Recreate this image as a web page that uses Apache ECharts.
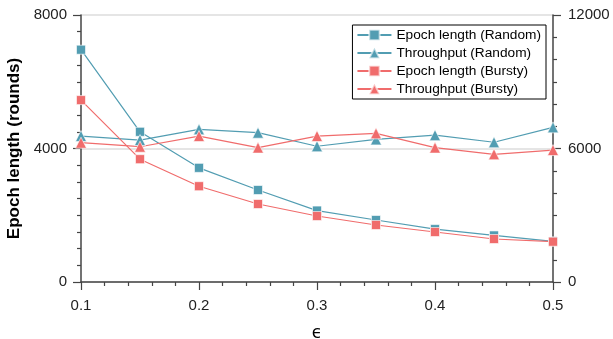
<!DOCTYPE html>
<html><head><meta charset="utf-8">
<script src="https://cdn.jsdelivr.net/npm/echarts@6/dist/echarts.min.js"></script>
<style>html,body{margin:0;padding:0;background:#fff}#c{width:613px;height:339px}</style>
</head><body><div id="c"></div>
<script>
const eps = [0.1, 0.15, 0.2, 0.25, 0.3, 0.35, 0.4, 0.45, 0.5];
const epochRandom = [6960, 4500, 3420, 2756, 2140, 1857, 1585, 1395, 1215];
const thrRandom = [6560, 6380, 6860, 6710, 6100, 6410, 6600, 6280, 6950];
const epochBursty = [5450, 3680, 2870, 2337, 1977, 1708, 1498, 1288, 1207];
const thrBursty = [6260, 6080, 6560, 6040, 6560, 6680, 6040, 5740, 5930];
const names = ['Epoch length (Random)', 'Throughput (Random)', 'Epoch length (Bursty)', 'Throughput (Bursty)'];
const teal = '#529db2', red = '#f06c6c';
const font = 'Liberation Sans, Arial, Helvetica, sans-serif';
function pairs(v){ return eps.map((x,i)=>[x, v[i]]); }
function mk(name, data, color, sym, yIdx, size){
  return { name, type:'line', data: pairs(data), yAxisIndex: yIdx, symbol: sym, symbolSize: size,
    showSymbol:true, lineStyle:{color, width:1.2}, itemStyle:{color, borderColor:'rgba(255,255,255,0.6)', borderWidth:1},
    emphasis:{disabled:true}, animation:false, z: 3 };
}
const chart = echarts.init(document.getElementById('c'), null, {renderer:'canvas'});
const axisLine = {show:true, lineStyle:{color:'#444', width:1.5}};
const plain = v => String(v);
chart.setOption({
  animation:false,
  grid:{left:81, right:60, top:15, bottom:57, containLabel:false, outerBoundsMode:'none'},
  legend:{
    data: names, orient:'vertical', right:67, top:25,
    backgroundColor:'#fff', borderColor:'#000', borderWidth:1, borderRadius:0,
    padding:[3,5,3,4], itemGap:4, itemWidth:34, itemHeight:13,
    textStyle:{fontFamily:font, fontSize:13.7, color:'#000'}
  },
  xAxis:{
    type:'value', min:0.1, max:0.5, interval:0.1,
    name:'ϵ', nameLocation:'middle', nameGap:43,
    nameTextStyle:{fontFamily:'DejaVu Sans, sans-serif', fontSize:17, color:'#000'},
    axisLine, axisTick:{show:true, length:8, inside:false, lineStyle:{color:'#444', width:1.2}},
    minorTick:{show:true, splitNumber:5, length:4, lineStyle:{color:'#444', width:1.2}},
    splitLine:{show:false},
    axisLabel:{fontFamily:font, fontSize:15, color:'#222', margin:16, formatter:v=>v.toFixed(1)}
  },
  yAxis:[{
    type:'value', min:0, max:8000, interval:4000, position:'left',
    name:'Epoch length (rounds)', nameLocation:'middle', nameGap:38,
    nameTextStyle:{fontFamily:font, fontSize:17, fontWeight:'bold', color:'#000'},
    axisLine, axisTick:{show:true, length:8, lineStyle:{color:'#444', width:1.2}},
    minorTick:{show:true, splitNumber:8, length:4, lineStyle:{color:'#444', width:1.2}},
    splitLine:{show:true, lineStyle:{color:'#ddd', width:1.5}},
    axisLabel:{fontFamily:font, fontSize:15, color:'#222', margin:14, formatter:plain}
  },{
    type:'value', min:0, max:12000, interval:6000, position:'right',
    axisLine, axisTick:{show:true, length:8, lineStyle:{color:'#444', width:1.2}},
    minorTick:{show:true, splitNumber:6, length:4, lineStyle:{color:'#444', width:1.2}},
    splitLine:{show:false},
    axisLabel:{fontFamily:font, fontSize:15, color:'#222', margin:15, formatter:plain}
  }],
  series:[
    mk(names[0], epochRandom, teal, 'rect', 0, 9),
    mk(names[1], thrRandom, teal, 'triangle', 1, 11),
    mk(names[2], epochBursty, red, 'rect', 0, 9),
    mk(names[3], thrBursty, red, 'triangle', 1, 11)
  ]
});
</script></body></html>
